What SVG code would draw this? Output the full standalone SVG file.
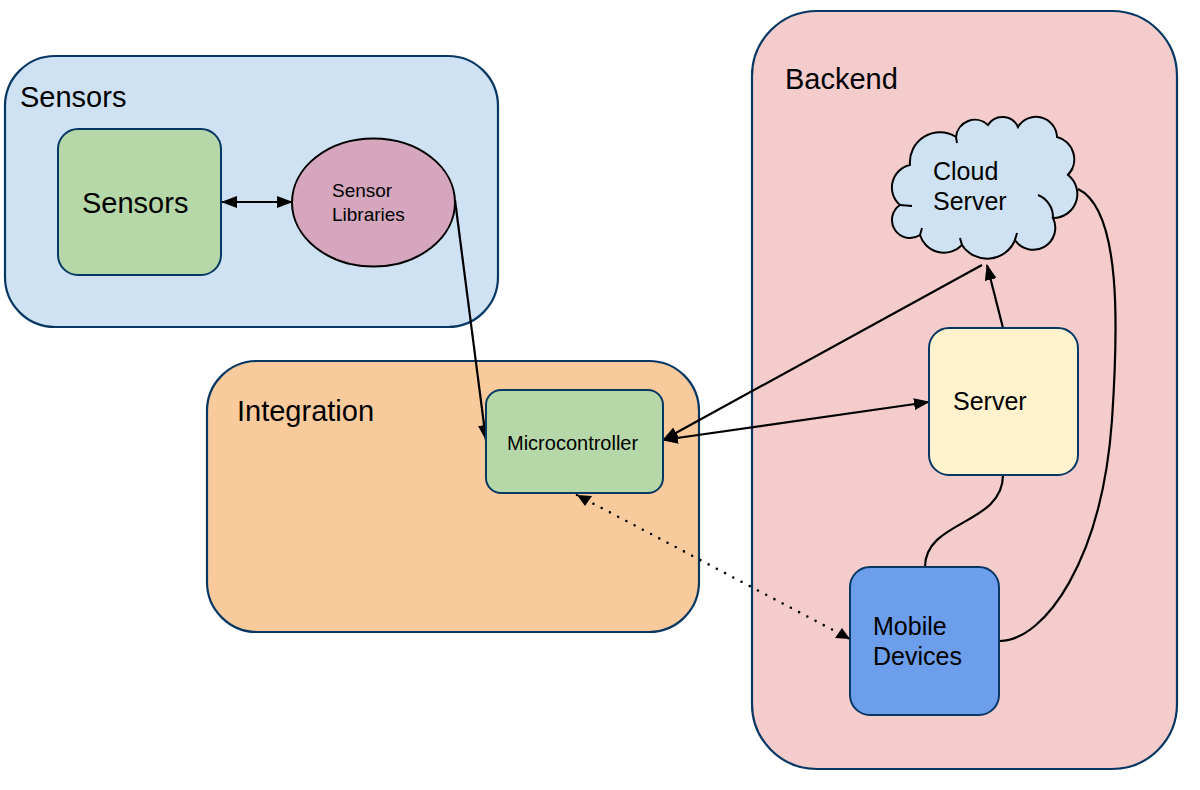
<svg xmlns="http://www.w3.org/2000/svg" width="1200" height="790" viewBox="0 0 1200 790">
<style>
.container{stroke:#073763;stroke-width:2.2}
.node{stroke:#073763;stroke-width:2}
.t{font-family:"Liberation Sans",Arial,sans-serif;fill:#000}
.big{font-size:29px}
.mid{font-size:25px}
.sm{font-size:19px}
.edge{fill:none;stroke:#000;stroke-width:2.2}
.dot{fill:none;stroke:#000;stroke-width:2.6;stroke-linecap:round;stroke-dasharray:0 9.3}
.curl{fill:none;stroke:#000;stroke-width:2}
</style>
<defs>
<marker id="ah" markerUnits="userSpaceOnUse" markerWidth="16" markerHeight="12" refX="15" refY="6" orient="auto-start-reverse">
<path d="M0,0 L16,6 L0,12 Z" fill="#000"/>
</marker>
</defs>
<rect width="1200" height="790" fill="#fff"/>
<g id="group-sensors">
<rect class="container" x="5" y="56" width="493" height="271" rx="50" fill="#cfe2f3"/>
<text class="t big" x="20" y="107">Sensors</text>
</g>
<g id="group-integration">
<rect class="container" x="207" y="361" width="492" height="271" rx="50" fill="#f9cb9c"/>
<text class="t big" x="237" y="421">Integration</text>
</g>
<g id="group-backend">
<rect class="container" x="752" y="11" width="425" height="758" rx="65" fill="#f4cccc"/>
<text class="t big" x="785" y="89">Backend</text>
</g>
<g id="connectors">
<line class="edge" x1="222" y1="202" x2="292" y2="202" marker-start="url(#ah)" marker-end="url(#ah)"/>
<line class="edge" x1="455" y1="200" x2="486" y2="440" marker-end="url(#ah)"/>
<line class="edge" x1="982" y1="265" x2="663" y2="440" marker-end="url(#ah)"/>
<line class="edge" x1="663" y1="440" x2="929" y2="402" marker-start="url(#ah)" marker-end="url(#ah)"/>
<line class="edge" x1="1003" y1="328" x2="987" y2="265" marker-end="url(#ah)"/>
<path class="edge" d="M1003,475 C1003,525 925,520 925,567"/>
<path class="edge" d="M1078,189 C1122,210 1118,330 1112,420 C1102,560 1045,640 1000,641"/>
<line class="dot" x1="577" y1="495" x2="850" y2="639"/>
<path d="M577,495 L592,496 L585,506 Z" fill="#000"/>
<path d="M850,639 L835,638 L842,628 Z" fill="#000"/>
</g>
<g id="node-sensors">
<rect class="node" x="58" y="129" width="163" height="146" rx="20" fill="#b6d7a8"/>
<text class="t big" x="82" y="213">Sensors</text>
</g>
<g id="node-sensor-libraries">
<ellipse cx="373.5" cy="202.5" rx="81.5" ry="64" fill="#d5a6bd" stroke="#000" stroke-width="2"/>
<text class="t sm" x="332" y="197">Sensor</text>
<text class="t sm" x="332" y="221">Libraries</text>
</g>
<g id="node-microcontroller">
<rect class="node" x="486" y="390" width="177" height="103" rx="15" fill="#b6d7a8"/>
<text class="t" style="font-size:20px" x="507" y="450">Microcontroller</text>
</g>
<g id="node-cloud-server">
<path d="M910,165 A30,30 0 0 1 956,137 A19,19 0 0 1 988,125 A17,17 0 0 1 1018,127 A21,21 0 0 1 1057,137 A23,23 0 0 1 1068,175 A24,24 0 0 1 1053,218 A22,22 0 0 1 1015,240 A30,30 0 0 1 962,245 A25,25 0 0 1 920,235 A17,17 0 0 1 900,205 A23,23 0 0 1 910,165 Z" fill="#cfe2f3" stroke="#000" stroke-width="2"/>
<path class="curl" d="M1038,195 A24,24 0 0 1 1053,218 M900,205 L912,206 M920,235 L922,228 M962,245 L960,238 M1015,240 L1017,233 M1068,175 L1073,168 M956,137 L957,143"/>
<text class="t mid" x="933" y="180">Cloud</text>
<text class="t mid" x="933" y="210">Server</text>
</g>
<g id="node-server">
<rect class="node" x="929" y="328" width="149" height="147" rx="20" fill="#fff2cc"/>
<text class="t mid" x="953" y="410">Server</text>
</g>
<g id="node-mobile-devices">
<rect class="node" x="850" y="567" width="149" height="148" rx="20" fill="#6d9eeb"/>
<text class="t mid" x="873" y="635">Mobile</text>
<text class="t mid" x="873" y="665">Devices</text>
</g>
</svg>
